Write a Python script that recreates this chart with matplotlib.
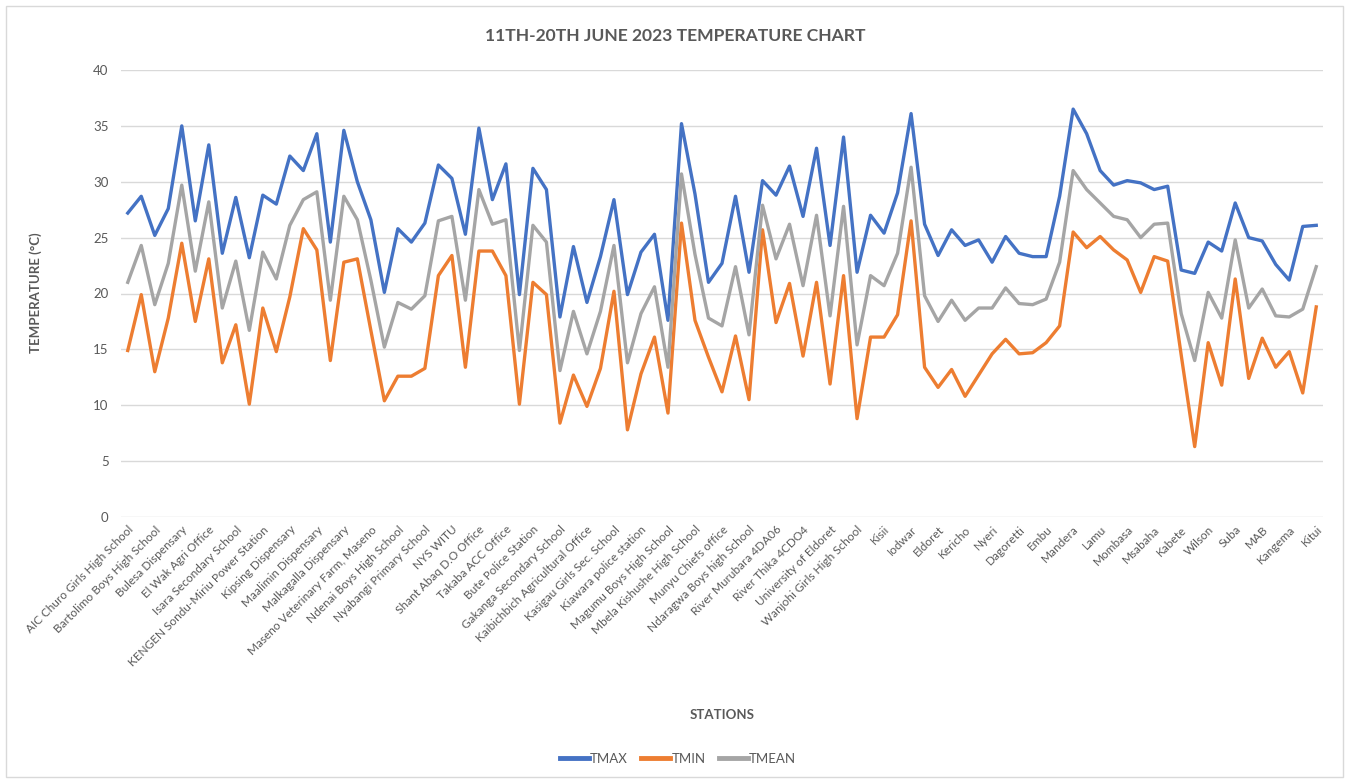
import matplotlib
matplotlib.use("Agg")
import matplotlib.pyplot as plt
from matplotlib.patches import Rectangle

plt.rcParams['font.family'] = ['Lato', 'DejaVu Sans']

stations = [
    "AIC Churo Girls High School", "Bartolimo Boys High School", "Bulesa Dispensary",
    "El Wak Agri Office", "Isara Secondary School", "KENGEN Sondu-Miriu Power Station",
    "Kipsing Dispensary", "Maalimin Dispensary", "Malkagalla Dispensary",
    "Maseno Veterinary Farm, Maseno", "Ndenai Boys High School", "Nyabangi Primary School",
    "NYS WITU", "Shant Abaq D.O Office", "Takaba ACC Office", "Bute Police Station",
    "Gakanga Secondary School", "Kaibichbich Agricultural Office", "Kasigau Girls Sec. School",
    "Kiawara police station", "Magumu Boys High School", "Mbela Kishushe High School",
    "Munyu Chiefs office", "Ndaragwa Boys high School", "River Murubara 4DA06",
    "River Thika 4CDO4", "University of Eldoret", "Wanjohi Girls High School",
    "Kisii", "Iodwar", "Eldoret", "Kericho", "Nyeri", "Dagoretti", "Embu", "Mandera",
    "Lamu", "Mombasa", "Msabaha", "Kabete", "Wilson", "Suba", "MAB", "Kangema", "Kitui",
]

tmax = [27.2, 28.7, 25.2, 27.6, 35.0, 26.5, 33.3, 23.6, 28.6, 23.2, 28.8, 28.0, 32.3, 31.0, 34.3, 24.6,
        34.6, 30.0, 26.6, 20.1, 25.8, 24.6, 26.3, 31.5, 30.3, 25.3, 34.8, 28.4, 31.6, 19.9, 31.2,
        29.3, 17.9, 24.2, 19.2, 23.3, 28.4, 19.9, 23.7, 25.3, 17.6, 35.2, 28.9, 21.0, 22.7, 28.7, 21.9,
        30.1, 28.8, 31.4, 26.9, 33.0, 24.3, 34.0, 21.9, 27.0, 25.4, 29.0, 36.1, 26.2, 23.4, 25.7,
        24.3, 24.8, 22.8, 25.1, 23.6, 23.3, 23.3, 28.7, 36.5, 34.3, 31.0, 29.7, 30.1, 29.9, 29.3,
        29.6, 22.1, 21.8, 24.6, 23.8, 28.1, 25.0, 24.7, 22.6, 21.2, 26.0, 26.1]

tmin = [14.9, 19.9, 13.0, 17.8, 24.5, 17.5, 23.1, 13.8, 17.2, 10.1, 18.7, 14.8, 19.7, 25.8, 23.9, 14.0,
        22.8, 23.1, 16.7, 10.4, 12.6, 12.6, 13.3, 21.6, 23.4, 13.4, 23.8, 23.8, 21.6, 10.1, 21.0,
        19.9, 8.4, 12.7, 9.9, 13.3, 20.2, 7.8, 12.8, 16.1, 9.3, 26.3, 17.6, 14.3, 11.2, 16.2, 10.5,
        25.7, 17.4, 20.9, 14.4, 21.0, 11.9, 21.6, 8.8, 16.1, 16.1, 18.1, 26.5, 13.4, 11.6, 13.2,
        10.8, 12.7, 14.6, 15.9, 14.6, 14.7, 15.6, 17.1, 25.5, 24.1, 25.1, 23.9, 23.0, 20.1, 23.3,
        22.9, 14.5, 6.3, 15.6, 11.8, 21.3, 12.4, 16.0, 13.4, 14.8, 11.1, 18.8]

tmean = [21.0, 24.3, 19.0, 22.7, 29.7, 22.0, 28.2, 18.7, 22.9, 16.7, 23.7, 21.3, 26.1, 28.4, 29.1, 19.4,
         28.7, 26.6, 21.2, 15.2, 19.2, 18.6, 19.8, 26.5, 26.9, 19.4, 29.3, 26.2, 26.6, 14.9, 26.1,
         24.6, 13.1, 18.4, 14.6, 18.4, 24.3, 13.8, 18.2, 20.6, 13.4, 30.7, 23.5, 17.8, 17.1, 22.4, 16.3,
         27.9, 23.1, 26.2, 20.7, 27.0, 18.0, 27.8, 15.4, 21.6, 20.7, 23.6, 31.3, 19.8, 17.5, 19.4,
         17.6, 18.7, 18.7, 20.5, 19.1, 19.0, 19.5, 22.8, 31.0, 29.3, 28.1, 26.9, 26.6, 25.0, 26.2,
         26.3, 18.2, 14.0, 20.1, 17.8, 24.8, 18.7, 20.4, 18.0, 17.9, 18.6, 22.4]

yticks = [0, 5, 10, 15, 20, 25, 30, 35, 40]

W, H = 1348, 781
fig = plt.figure(figsize=(W / 100, H / 100), dpi=100)
ax = fig.add_axes([121 / W, 1 - 517 / H, (1323 - 121) / W, (517 - 70) / H])

x = list(range(len(tmax)))
ax.plot(x, tmax, color='#4472C4', lw=2.4, label='TMAX', solid_joinstyle='round')
ax.plot(x, tmin, color='#ED7D31', lw=2.4, label='TMIN', solid_joinstyle='round')
ax.plot(x, tmean, color='#A5A5A5', lw=2.4, label='TMEAN', solid_joinstyle='round')

ax.set_xlim(-0.5, len(tmax) - 0.5)
ax.set_ylim(0, 40)
ax.set_yticks(yticks)
ax.grid(axis='y', color='#D9D9D9', lw=1)
ax.set_axisbelow(True)
for s in ax.spines.values():
    s.set_visible(False)

ax.set_xticks(list(range(0, len(tmax), 2)))
ax.set_xticklabels(stations, rotation=45, ha='right', va='top', rotation_mode='anchor',
                   fontsize=8.5, color='#595959')
ax.tick_params(axis='both', length=0, pad=5)
ax.tick_params(axis='y', labelsize=9.5, labelcolor='#595959', pad=9)

fig.text(675 / W, 1 - 36 / H, '11TH-20TH JUNE 2023 TEMPERATURE CHART', ha='center', va='center',
         fontsize=12.6, fontweight='bold', color='#595959')
fig.text(36 / W, 1 - 293 / H, 'TEMPERATURE (°C)', ha='center', va='center', rotation=90,
         fontsize=9.5, fontweight='bold', color='#595959')
fig.text(722 / W, 1 - 715 / H, 'STATIONS', ha='center', va='center',
         fontsize=9.5, fontweight='bold', color='#595959')

leg = fig.legend(loc='center', bbox_to_anchor=(678 / W, 1 - 759 / H), ncol=3, frameon=False,
                 fontsize=9.5, handlelength=2.2, handletextpad=0.1, columnspacing=1.0)
for t in leg.get_texts():
    t.set_color('#595959')
for l in leg.get_lines():
    l.set_linewidth(3.5)

fig.patches.append(Rectangle((6 / W, 4 / H), (1343 - 6) / W, (775 - 4) / H, transform=fig.transFigure,
                             fill=False, edgecolor='#D9D9D9', lw=1))

fig.savefig('out.png', dpi=100)
